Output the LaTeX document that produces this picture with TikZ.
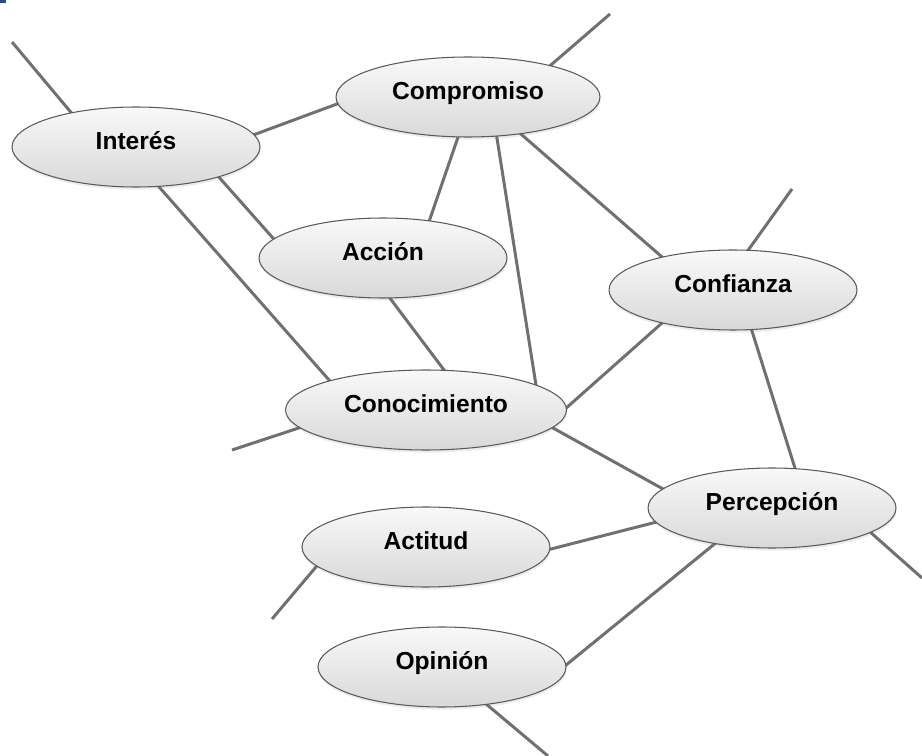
\documentclass[tikz,border=0pt]{standalone}
\usepackage{fontspec}
\setmainfont{Liberation Sans}
\usetikzlibrary{shapes.geometric,shadows}
\pgfdeclarelayer{bg}
\pgfsetlayers{bg,main}
\definecolor{linec}{HTML}{707070}
\definecolor{edgec}{HTML}{5A5A5A}
\definecolor{markc}{HTML}{1F4E8C}
\begin{document}
\begin{tikzpicture}[x=0.02cm,y=-0.02cm,
  bubble/.style={ellipse, draw=edgec, line width=0.6pt, top color=gray!5, bottom color=gray!30,
    minimum width=4.96cm, minimum height=1.6cm, inner sep=0pt,
    text height=0.75em, text depth=0.45em,
    font=\fontsize{14}{16}\selectfont\bfseries,
    drop shadow={opacity=0.15, shadow xshift=0.3pt, shadow yshift=-1.5pt}},
  link/.style={draw=linec, line width=1.7pt, shorten <=-2pt, shorten >=-2pt},
  freelink/.style={draw=linec, line width=1.7pt, shorten <=-2pt}]
\useasboundingbox (0,0) rectangle (922,756);
\fill[markc] (0,0) rectangle (6,3);

\node[bubble] (interes) at (136,147) {Interés};
\node[bubble, minimum width=5.28cm] (compromiso) at (468,97) {Compromiso};
\node[bubble] (accion) at (383,258) {Acción};
\node[bubble] (confianza) at (733,290) {Confianza};
\node[bubble, minimum width=5.62cm] (conocimiento) at (426,410) {Conocimiento};
\node[bubble] (percepcion) at (772,508) {Percepción};
\node[bubble] (actitud) at (426,547) {Actitud};
\node[bubble] (opinion) at (442,667) {Opinión};

\coordinate (fa) at (12,42);
\coordinate (fb) at (610,14);
\coordinate (fc) at (792,189);
\coordinate (fd) at (232,450);
\coordinate (fe) at (922,578);
\coordinate (ff) at (272,619);
\coordinate (fg) at (548,756);

\begin{pgfonlayer}{bg}
\draw[freelink] (interes.152) -- (fa);
\draw[link] (interes.6) -- (compromiso.183);
\draw[link] (interes.-20) -- (accion.170);
\draw[link] (interes.-60) -- (conocimiento.163);
\draw[freelink] (compromiso.21) -- (fb);
\draw[link] (compromiso.-104) -- (accion.39);
\draw[link] (compromiso.-54) -- (conocimiento.13);
\draw[link] (compromiso.-35) -- (confianza.155);
\draw[freelink] (confianza.69) -- (fc);
\draw[link] (accion.-80) -- (conocimiento.66);
\draw[link] (confianza.205) -- (conocimiento.1);
\draw[link] (confianza.-65) -- (percepcion.60);
\draw[freelink] (conocimiento.188) -- (fd);
\draw[link] (conocimiento.-8) -- (percepcion.170);
\draw[freelink] (percepcion.-14) -- (fe);
\draw[link] (actitud.-1) -- (percepcion.187);
\draw[freelink] (actitud.190) -- (ff);
\draw[link] (opinion.1) -- (percepcion.212);
\draw[freelink] (opinion.-40) -- (fg);
\end{pgfonlayer}
\end{tikzpicture}
\end{document}
